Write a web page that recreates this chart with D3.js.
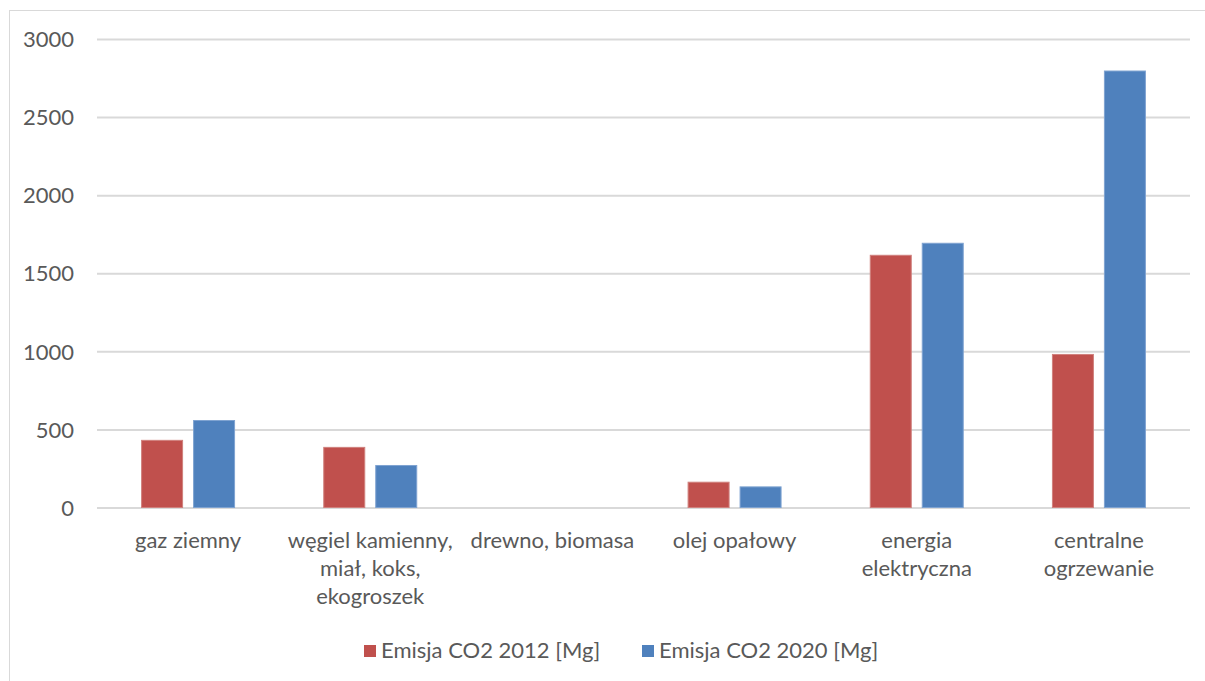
<!DOCTYPE html>
<html><head><meta charset="utf-8">
<script src="https://cdn.jsdelivr.net/npm/d3@7"></script>
<style>body{margin:0;background:#fff}svg{display:block}text{font-family:Lato,"Open Sans",sans-serif;fill:#595959}</style>
</head><body>
<script>
const categories = [["gaz ziemny"],["węgiel kamienny,","miał, koks,","ekogroszek"],["drewno, biomasa"],["olej opałowy"],["energia","elektryczna"],["centralne","ogrzewanie"]];
const seriesNames = ["Emisja CO2 2012 [Mg]","Emisja CO2 2020 [Mg]"];
const values2012 = [430, 385, 0, 162, 1615, 980];
const values2020 = [557, 269, 0, 132, 1692, 2795];
const yTicks = [0,500,1000,1500,2000,2500,3000];
const colors = ["#C0504D","#4F81BD"];
const strokes = ["#D0807D","#7FA3D1"];

(function(){
const W=1205,H=681, FS=22;
const svg=d3.select("body").append("svg").attr("width",W).attr("height",H);
svg.append("rect").attr("x",9.5).attr("y",10.5).attr("width",1220).attr("height",700).attr("fill","none").attr("stroke","#d9d9d9");

const pLeft=97,pRight=1190,pTop=39,pBottom=507.5;
const x=d3.scaleBand().domain(d3.range(categories.length)).range([pLeft,pRight]);
const y=d3.scaleLinear().domain([0,3000]).range([pBottom,pTop]);

const yAxis=d3.axisLeft(y).tickValues(yTicks).tickFormat(d3.format("d")).tickSize(-(pRight-pLeft)).tickPadding(23);
const gy=svg.append("g").attr("transform",`translate(${pLeft},0)`).call(yAxis);
gy.select(".domain").remove();
gy.selectAll(".tick line").attr("stroke","#d9d9d9").attr("stroke-width",2);
gy.selectAll(".tick text").attr("font-size",FS).attr("font-family","Lato").style("fill","#595959").attr("dy","0.35em");

const barW=x.bandwidth()*0.225, gap=11;
const series=[values2012,values2020];
series.forEach((vals,si)=>{
  svg.append("g").selectAll("rect").data(vals).join("rect")
    .attr("x",(d,i)=>x(i)+x.bandwidth()/2 + (si===0? -gap/2-barW : gap/2))
    .attr("y",d=>y(d)).attr("width",barW).attr("height",d=>y(0)-y(d))
    .attr("fill",colors[si]).attr("stroke",d=>d>0?strokes[si]:"none").attr("stroke-width",1);
});

const gx=svg.append("g");
categories.forEach((lines,i)=>{
  const t=gx.append("text").attr("text-anchor","middle").attr("font-size",FS);
  lines.forEach((l,j)=>t.append("tspan").attr("x",x(i)+x.bandwidth()/2).attr("y",548+j*28).text(l));
});

const legX=[364,642];
seriesNames.forEach((n,i)=>{
  svg.append("rect").attr("x",legX[i]).attr("y",645).attr("width",12).attr("height",12).attr("fill",colors[i]);
  svg.append("text").attr("x",legX[i]+17).attr("y",658).attr("font-size",FS).text(n);
});
})();
</script>
</body></html>
